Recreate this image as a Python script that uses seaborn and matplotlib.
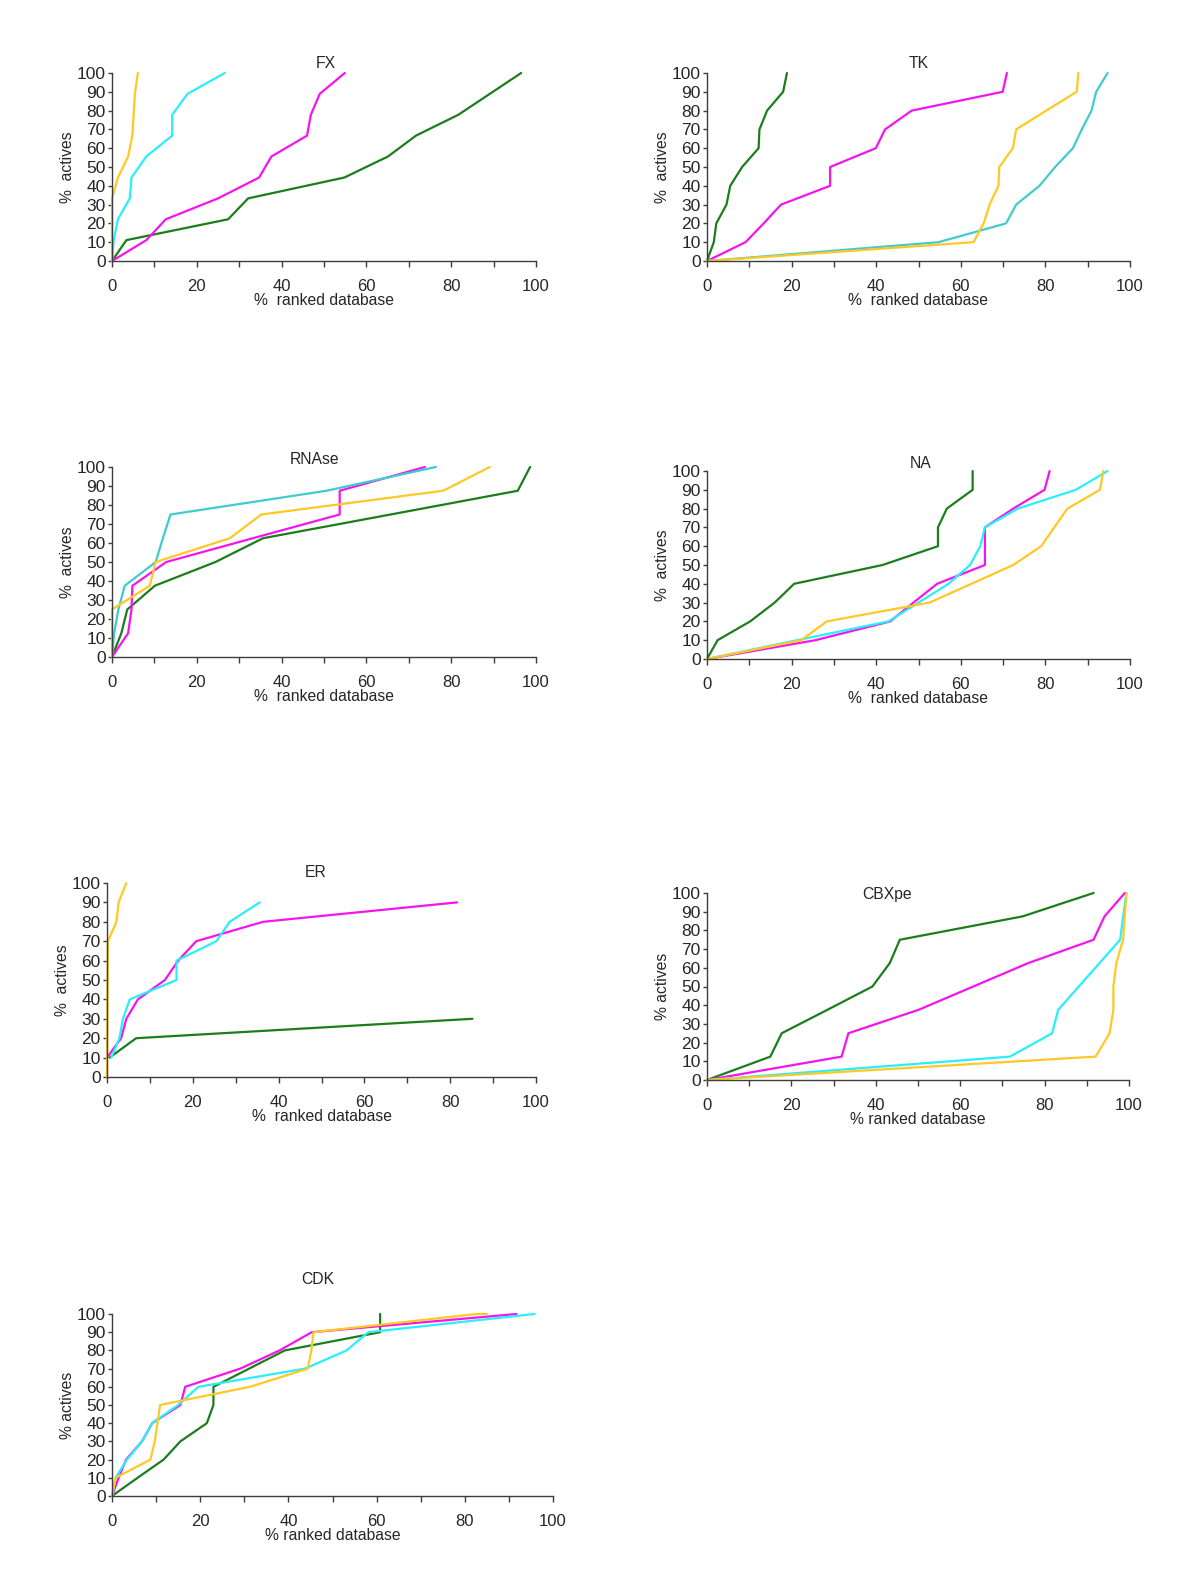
import matplotlib
matplotlib.use('Agg')
import matplotlib.pyplot as plt
import seaborn as sns
import numpy as np

sns.set_style('ticks')
plt.rcParams['font.family'] = ['Liberation Sans', 'DejaVu Sans']

# colours of the four methods
GREEN = '#1b7d1b'
MAGENTA = '#f414f0'
CYAN = '#2aeefc'
TURQ = '#40cccc'
YELLOW = '#ffc825'

# y levels (fraction of actives found)
y9 = [0, 11.1, 22.2, 33.3, 44.4, 55.6, 66.7, 77.8, 88.9, 100]
y10 = [0, 10, 20, 30, 40, 50, 60, 70, 80, 90, 100]
y8 = [0, 12.5, 25, 37.5, 50, 62.5, 75, 87.5, 100]

# FX
fx_green = [0, 3.4, 27.4, 32.1, 54.8, 65.1, 71.7, 81.7, 89.1, 96.5]
fx_magenta = [0, 8.1, 12.7, 25.0, 34.7, 37.6, 46.0, 46.9, 49.0, 54.9]
fx_cyan = [0, 0.4, 1.4, 4.2, 4.6, 8.1, 14.2, 14.2, 17.8, 26.6]
fx_yellow = [0, 0, 0, 0, 1.4, 3.8, 4.8, 5.1, 5.4, 6.1]

# TK
tk_green = [0, 1.6, 2.2, 4.6, 5.5, 8.3, 12.2, 12.4, 14.2, 18.0, 18.9]
tk_magenta = [0, 9.1, 13.4, 17.5, 29.1, 29.1, 39.9, 42.1, 48.4, 69.9, 70.9]
tk_turq = [0, 54.7, 70.7, 73.1, 78.6, 82.3, 86.5, 88.6, 90.9, 92.0, 94.7]
tk_yellow = [0, 63.0, 65.4, 66.8, 68.9, 69.1, 72.3, 73.1, 80.2, 87.4, 87.8]

# RNAse
rn_green = [0, 2.2, 3.6, 10.1, 24.4, 35.6, 65.7, 95.7, 98.6]
rn_magenta = [0, 3.8, 4.6, 4.8, 12.8, 33.2, 53.7, 53.7, 73.8]
rn_turq = [0, 0.5, 1.5, 3.0, 10.3, 12.0, 13.8, 50.6, 76.4]
rn_yellow = [0, 0, 0, 8.9, 10.3, 27.8, 35.2, 78.1, 89.1]

# NA
na_green = [0, 2.5, 10.2, 16.0, 20.6, 41.5, 54.6, 54.6, 56.7, 62.8, 62.8]
na_magenta = [0, 25.6, 43.3, 48.8, 54.4, 65.7, 65.7, 65.7, 72.4, 79.8, 81.0]
na_cyan = [0, 21.3, 42.9, 50.0, 57.1, 62.2, 64.6, 65.7, 73.5, 87.2, 94.7]
na_yellow = [0, 22.3, 28.3, 52.6, 62.5, 72.4, 79.0, 82.1, 85.2, 92.9, 93.7]

# ER (curves do not start at the origin)
er_green_x = [0.6, 6.8, 85.2]
er_green_y = [10, 20, 30]
er_magenta_x = [0, 3.3, 4.5, 7.2, 13.5, 16.6, 20.8, 36.4, 81.6]
er_magenta_y = [10, 20, 30, 40, 50, 60, 70, 80, 90]
er_cyan_x = [1.0, 2.9, 3.7, 5.3, 16.2, 16.2, 25.5, 28.6, 35.6]
er_cyan_y = [10, 20, 30, 40, 50, 60, 70, 80, 90]
er_yellow_x = [0, 0, 0.2, 2.2, 2.7, 4.5]
er_yellow_y = [0, 10, 70, 80, 90, 100]

# CBXpe
cb_green = [0, 15.0, 17.7, 28.5, 39.2, 43.3, 45.7, 74.8, 91.6]
cb_magenta = [0, 31.9, 33.5, 50.1, 63.1, 76.1, 91.6, 94.2, 99.0]
cb_cyan = [0, 71.8, 81.8, 83.2, 88.1, 93.0, 97.9, 98.6, 99.4]
cb_yellow = [0, 92.1, 95.4, 96.3, 96.3, 97.0, 98.6, 99.0, 99.4]

# CDK
cdk_green = [0, 5.8, 11.7, 15.5, 21.5, 23.0, 23.0, 31.1, 39.2, 60.8, 60.8]
cdk_magenta = [0, 1.5, 3.2, 6.8, 9.1, 15.5, 16.6, 29.1, 38.0, 45.3, 91.7]
cdk_cyan = [0, 0.8, 3.4, 6.8, 9.1, 15.0, 19.6, 43.8, 53.2, 58.1, 95.8]
cdk_yellow_x = [0, 0.8, 8.7, 9.7, 10.3, 10.9, 31.3, 44.4, 45.2, 45.7, 82.6, 85.0]
cdk_yellow_y = [0, 10, 20, 30, 40, 50, 60, 70, 80, 90, 100, 100]

W, H = 1200, 1580
fig = plt.figure(figsize=(12, 15.8), dpi=100)


def make_ax(x0, x1, y0, y1):
    # pixel box -> figure fraction
    return fig.add_axes([x0 / W, 1 - y1 / H, (x1 - x0) / W, (y1 - y0) / H])


def draw(ax, series, title, tpos, ylab='%  actives', xlab='%  ranked database'):
    for xs, ys, c in series:
        sns.lineplot(x=xs, y=ys, ax=ax, color=c, lw=1.6, sort=False,
                     estimator=None, clip_on=False)
    ax.set_xlim(0, 100)
    ax.set_ylim(0, 100)
    ax.set_xticks(np.arange(0, 101, 20))
    ax.set_xticks(np.arange(10, 100, 20), minor=True)
    ax.set_yticks(np.arange(0, 101, 10))
    for s in ['top', 'right']:
        ax.spines[s].set_visible(False)
    for s in ['left', 'bottom']:
        ax.spines[s].set_color('#3c3c3c')
        ax.spines[s].set_linewidth(1.0)
    ax.tick_params(axis='x', which='both', length=4, width=1.0, color='#3c3c3c',
                   pad=9, labelsize=12)
    ax.tick_params(axis='y', length=3, width=1.0, color='#3c3c3c', pad=1.5,
                   labelsize=12.5)
    ax.set_xlabel(xlab, fontsize=11.3, labelpad=-1)
    ax.set_ylabel(ylab, fontsize=11.3, labelpad=1)
    fig.text(tpos[0] / W, 1 - tpos[1] / H, title, ha='center', va='center',
             fontsize=11.3)


ax = make_ax(112, 536, 73, 261)
draw(ax, [(fx_green, y9, GREEN), (fx_magenta, y9, MAGENTA),
          (fx_cyan, y9, CYAN), (fx_yellow, y9, YELLOW)], 'FX', (326, 63))

ax = make_ax(707, 1130, 73, 261)
draw(ax, [(tk_green, y10, GREEN), (tk_magenta, y10, MAGENTA),
          (tk_turq, y10, TURQ), (tk_yellow, y10, YELLOW)], 'TK', (919, 64))

ax = make_ax(112, 536, 467, 657)
draw(ax, [(rn_green, y8, GREEN), (rn_magenta, y8, MAGENTA),
          (rn_turq, y8, TURQ), (rn_yellow, y8, YELLOW)], 'RNAse', (315, 459))

ax = make_ax(707, 1130, 471, 659)
draw(ax, [(na_green, y10, GREEN), (na_magenta, y10, MAGENTA),
          (na_cyan, y10, CYAN), (na_yellow, y10, YELLOW)], 'NA', (921, 464))

ax = make_ax(107, 536, 883, 1077)
draw(ax, [(er_green_x, er_green_y, GREEN), (er_magenta_x, er_magenta_y, MAGENTA),
          (er_cyan_x, er_cyan_y, CYAN), (er_yellow_x, er_yellow_y, YELLOW)],
     'ER', (316, 873))

ax = make_ax(707, 1129, 893, 1080)
draw(ax, [(cb_green, y8, GREEN), (cb_magenta, y8, MAGENTA),
          (cb_cyan, y8, CYAN), (cb_yellow, y8, YELLOW)], 'CBXpe', (887, 894),
     ylab='% actives', xlab='% ranked database')

ax = make_ax(112, 553, 1314, 1496)
draw(ax, [(cdk_green, y10, GREEN), (cdk_magenta, y10, MAGENTA),
          (cdk_cyan, y10, CYAN), (cdk_yellow_x, cdk_yellow_y, YELLOW)], 'CDK',
     (318, 1279), ylab='% actives', xlab='% ranked database')

fig.savefig('out.png', dpi=100)
